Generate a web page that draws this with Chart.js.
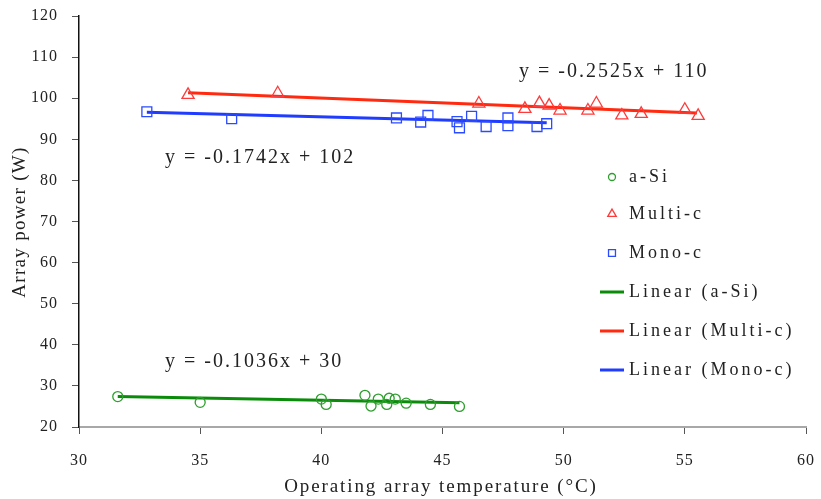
<!DOCTYPE html>
<html>
<head>
<meta charset="utf-8">
<script src="https://cdn.jsdelivr.net/npm/chart.js@4.4.1/dist/chart.umd.min.js"></script>
<style>
  html, body { margin: 0; padding: 0; background: #fff; }
  #wrap { width: 821px; height: 499px; }
</style>
</head>
<body>
<div id="wrap"><canvas id="pvChart" width="821" height="499"></canvas></div>
<script>
// measured points (temperature °C, power W)
const aSiTemp = [31.6, 35.0, 40.0, 40.2, 41.8, 42.05, 42.35, 42.7, 42.8, 43.05, 43.5, 44.5, 45.7];
const aSiPower = [27.4, 26.0, 26.8, 25.5, 27.7, 25.1, 26.8, 25.5, 27.0, 26.8, 25.8, 25.5, 25.0];
const multiTemp = [34.5, 38.2, 46.5, 48.4, 49.0, 49.4, 49.85, 51.0, 51.35, 52.4, 53.2, 55.0, 55.55];
const multiPower = [100.8, 101.2, 98.7, 97.4, 98.8, 98.2, 97.0, 97.0, 98.7, 95.8, 96.2, 97.2, 95.7];
const monoTemp = [32.8, 36.3, 43.1, 44.1, 44.4, 45.6, 45.7, 46.2, 46.8, 47.7, 47.7, 48.9, 49.3];
const monoPower = [96.7, 95.0, 95.2, 94.2, 95.8, 94.3, 92.8, 95.6, 93.1, 95.2, 93.3, 93.1, 93.8];

// trend line end points
const aSiFitTemp = [31.6, 45.7];
const aSiFitPower = [27.4, 25.9];
const multiFitTemp = [34.5, 55.5];
const multiFitPower = [101.3, 96.4];
const monoFitTemp = [32.8, 49.3];
const monoFitPower = [96.6, 94.0];

const equations = ['y = -0.1036x + 30', 'y = -0.2525x + 110', 'y = -0.1742x + 102'];
const legendLabels = ['a-Si', 'Multi-c', 'Mono-c', 'Linear (a-Si)', 'Linear (Multi-c)', 'Linear (Mono-c)'];

const xTicks = [30, 35, 40, 45, 50, 55, 60];
const yTicks = [20, 30, 40, 50, 60, 70, 80, 90, 100, 110, 120];

const SERIF = '"Liberation Serif", "DejaVu Serif", serif';
Chart.defaults.font.family = 'Liberation Serif';

function toPoints(xs, ys) {
    return xs.map((x, i) => ({ x: x, y: ys[i] }));
}

// Draws axis titles, equation labels and the legend box
const overlayPlugin = {
    id: 'overlay',
    beforeDraw(chart) {
        chart.ctx.letterSpacing = '1px';
    },
    afterDraw(chart) {
        const ctx = chart.ctx;
        const xs = chart.scales.x;
        const ys = chart.scales.y;
        ctx.save();
        ctx.fillStyle = '#222';
        ctx.textBaseline = 'middle';

        // axis titles
        ctx.font = '19px ' + SERIF;
        ctx.letterSpacing = '1.9px';
        ctx.textAlign = 'center';
        ctx.fillText('Operating array temperature (°C)', 441, 487);
        ctx.save();
        ctx.translate(20, 222);
        ctx.rotate(-Math.PI / 2);
        ctx.letterSpacing = '1.3px';
        ctx.fillText('Array power (W)', 0, 0);
        ctx.restore();

        // trend equations
        ctx.font = '20px ' + SERIF;
        ctx.letterSpacing = '2px';
        ctx.textAlign = 'left';
        ctx.fillText(equations[0], xs.getPixelForValue(33.55), ys.getPixelForValue(35.8));
        ctx.fillText(equations[1], xs.getPixelForValue(48.16), ys.getPixelForValue(106.4));
        ctx.fillText(equations[2], xs.getPixelForValue(33.55), ys.getPixelForValue(85.5));

        // legend
        ctx.font = '18px ' + SERIF;
        ctx.letterSpacing = '3px';
        const rowY = [177, 214, 253, 292, 331, 370];
        chart.data.datasets.forEach((ds, i) => {
            const y = rowY[i];
            if (ds.showLine) {
                ctx.strokeStyle = ds.borderColor;
                ctx.lineWidth = 3;
                ctx.beginPath();
                ctx.moveTo(600, y);
                ctx.lineTo(624, y);
                ctx.stroke();
            } else {
                ctx.strokeStyle = ds.borderColor;
                ctx.fillStyle = 'rgba(0,0,0,0)';
                ctx.lineWidth = 1.3;
                Chart.helpers.drawPoint(ctx, {
                    pointStyle: ds.pointStyle,
                    radius: ds.pointRadius * 0.7,
                    borderWidth: 1.3,
                    rotation: 0
                }, 612, y);
            }
            ctx.fillStyle = '#222';
            ctx.fillText(legendLabels[i], 629, y);
        });
        ctx.restore();
    }
};

function noEdgePadding(scale) {
    scale.paddingLeft = 0;
    scale.paddingRight = 0;
    scale.paddingTop = 0;
    scale.paddingBottom = 0;
}

const ctx = document.getElementById('pvChart').getContext('2d');
new Chart(ctx, {
    type: 'scatter',
    data: {
        datasets: [
            {
                label: 'a-Si',
                data: toPoints(aSiTemp, aSiPower),
                pointStyle: 'circle',
                pointRadius: 5,
                borderColor: '#2e9e2e',
                backgroundColor: 'rgba(0,0,0,0)',
                pointBorderWidth: 1.3,
                showLine: false
            },
            {
                label: 'Multi-c',
                data: toPoints(multiTemp, multiPower),
                pointStyle: 'triangle',
                pointRadius: 7,
                borderColor: '#ff3a3a',
                backgroundColor: 'rgba(0,0,0,0)',
                pointBorderWidth: 1.3,
                showLine: false
            },
            {
                label: 'Mono-c',
                data: toPoints(monoTemp, monoPower),
                pointStyle: 'rect',
                pointRadius: 7,
                borderColor: '#2b4bff',
                backgroundColor: 'rgba(0,0,0,0)',
                pointBorderWidth: 1.3,
                showLine: false
            },
            {
                label: 'Linear (a-Si)',
                data: toPoints(aSiFitTemp, aSiFitPower),
                borderColor: '#0a8c0a',
                borderWidth: 3,
                pointRadius: 0,
                showLine: true
            },
            {
                label: 'Linear (Multi-c)',
                data: toPoints(multiFitTemp, multiFitPower),
                borderColor: '#ff2a10',
                borderWidth: 3,
                pointRadius: 0,
                showLine: true
            },
            {
                label: 'Linear (Mono-c)',
                data: toPoints(monoFitTemp, monoFitPower),
                borderColor: '#1f3cff',
                borderWidth: 3,
                pointRadius: 0,
                showLine: true
            }
        ]
    },
    options: {
        responsive: false,
        animation: false,
        layout: { padding: { top: 16, right: 15, left: 0, bottom: 0 } },
        plugins: {
            legend: { display: false },
            tooltip: { enabled: false }
        },
        scales: {
            x: {
                type: 'linear',
                min: 30,
                max: 60,
                afterFit: scale => { scale.height = 72; noEdgePadding(scale); },
                afterBuildTicks: scale => { scale.ticks = xTicks.map(v => ({ value: v })); },
                grid: { display: true, drawOnChartArea: false, drawTicks: true, tickLength: 7, color: '#555' },
                border: { display: true, color: '#a8a8a8', width: 2 },
                ticks: { padding: 17, color: '#222', font: { family: 'Liberation Serif', size: 16 } }
            },
            y: {
                type: 'linear',
                min: 20,
                max: 120,
                afterFit: scale => { scale.width = 79; noEdgePadding(scale); },
                afterBuildTicks: scale => { scale.ticks = yTicks.map(v => ({ value: v })); },
                grid: { display: true, drawOnChartArea: false, drawTicks: true, tickLength: 7, color: '#555' },
                border: { display: true, color: '#111', width: 1.5 },
                ticks: { padding: 14, color: '#222', font: { family: 'Liberation Serif', size: 16 } }
            }
        }
    },
    plugins: [overlayPlugin]
});
</script>
</body>
</html>
